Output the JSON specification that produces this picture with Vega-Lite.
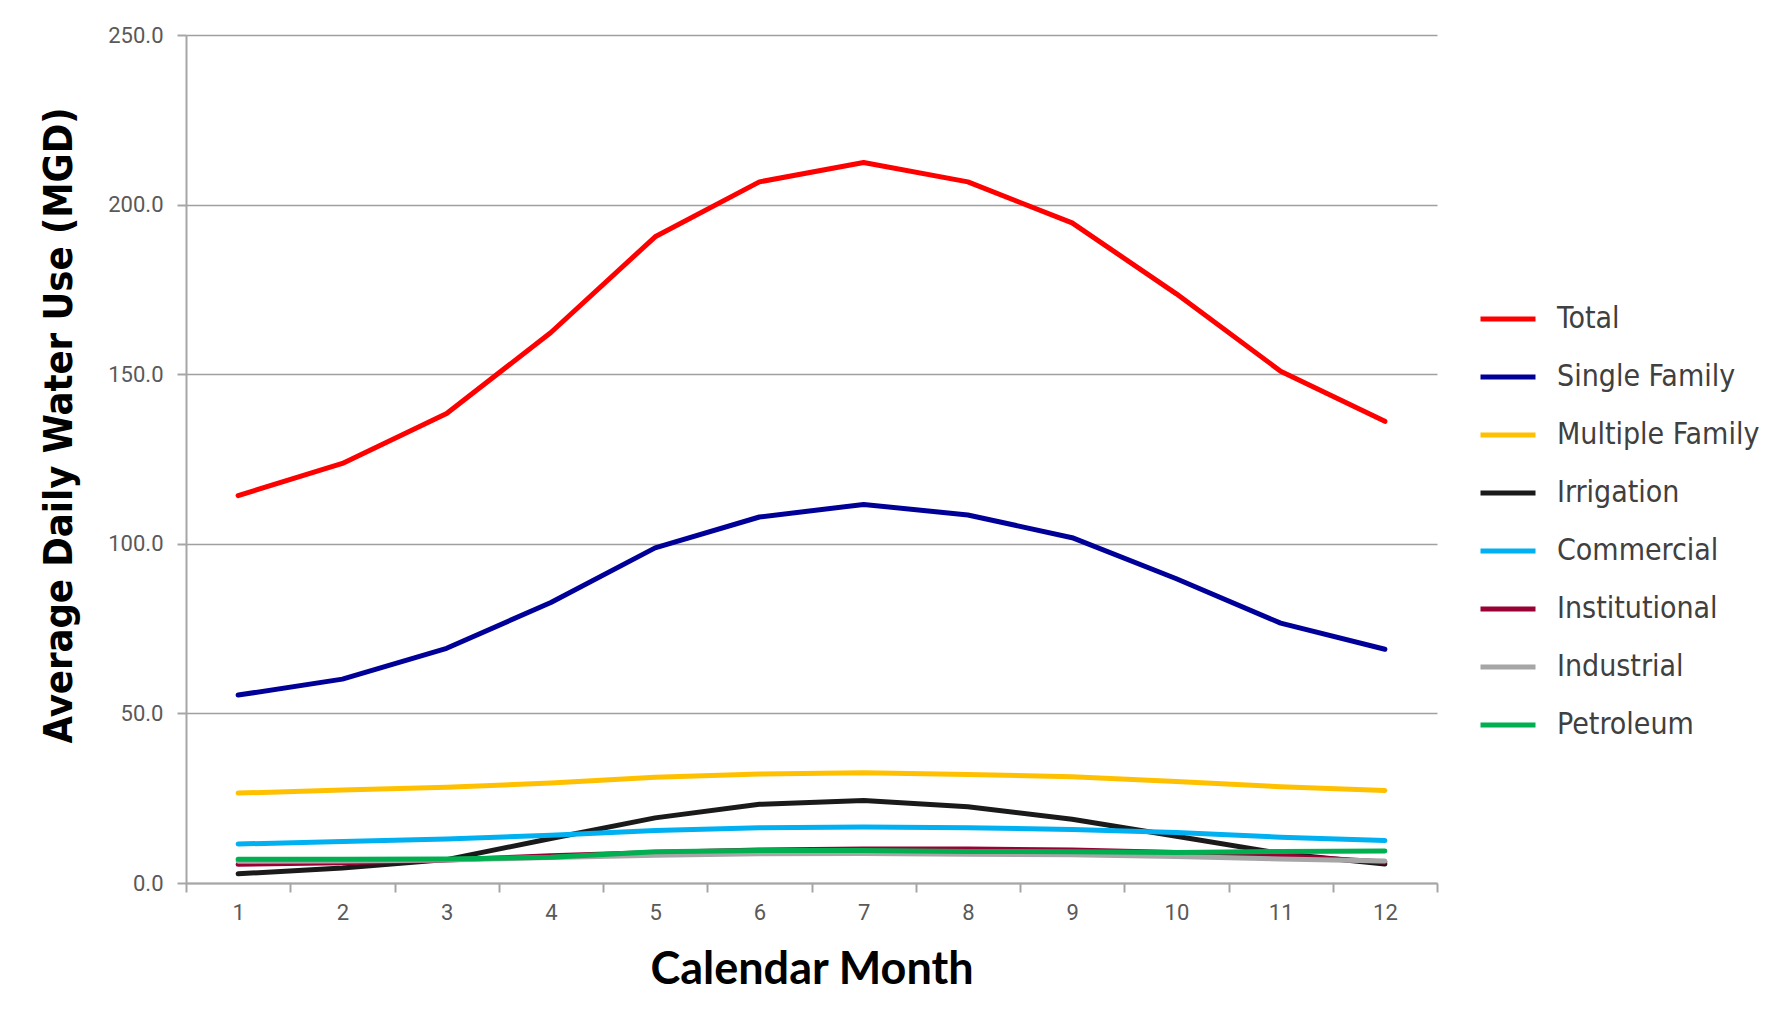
{
  "$schema": "https://vega.github.io/schema/vega-lite/v6.json",
  "width": 1251,
  "height": 848,
  "autosize": {"type": "none"},
  "padding": {"left": 186, "top": 35, "right": 350, "bottom": 144},
  "background": "white",
  "data": {
    "values": [
      {"month": 1, "sector": "Total", "mgd": 114.2},
      {"month": 2, "sector": "Total", "mgd": 123.7},
      {"month": 3, "sector": "Total", "mgd": 138.4},
      {"month": 4, "sector": "Total", "mgd": 162.3},
      {"month": 5, "sector": "Total", "mgd": 190.5},
      {"month": 6, "sector": "Total", "mgd": 206.7},
      {"month": 7, "sector": "Total", "mgd": 212.4},
      {"month": 8, "sector": "Total", "mgd": 206.7},
      {"month": 9, "sector": "Total", "mgd": 194.6},
      {"month": 10, "sector": "Total", "mgd": 173.7},
      {"month": 11, "sector": "Total", "mgd": 150.9},
      {"month": 12, "sector": "Total", "mgd": 136.1},
      {"month": 1, "sector": "Single Family", "mgd": 55.4},
      {"month": 2, "sector": "Single Family", "mgd": 60.1},
      {"month": 3, "sector": "Single Family", "mgd": 69.2},
      {"month": 4, "sector": "Single Family", "mgd": 82.7},
      {"month": 5, "sector": "Single Family", "mgd": 98.8},
      {"month": 6, "sector": "Single Family", "mgd": 107.9},
      {"month": 7, "sector": "Single Family", "mgd": 111.6},
      {"month": 8, "sector": "Single Family", "mgd": 108.5},
      {"month": 9, "sector": "Single Family", "mgd": 101.8},
      {"month": 10, "sector": "Single Family", "mgd": 89.7},
      {"month": 11, "sector": "Single Family", "mgd": 76.6},
      {"month": 12, "sector": "Single Family", "mgd": 68.9},
      {"month": 1, "sector": "Multiple Family", "mgd": 26.5},
      {"month": 2, "sector": "Multiple Family", "mgd": 27.4},
      {"month": 3, "sector": "Multiple Family", "mgd": 28.2},
      {"month": 4, "sector": "Multiple Family", "mgd": 29.5},
      {"month": 5, "sector": "Multiple Family", "mgd": 31.2},
      {"month": 6, "sector": "Multiple Family", "mgd": 32.1},
      {"month": 7, "sector": "Multiple Family", "mgd": 32.5},
      {"month": 8, "sector": "Multiple Family", "mgd": 32.0},
      {"month": 9, "sector": "Multiple Family", "mgd": 31.3},
      {"month": 10, "sector": "Multiple Family", "mgd": 29.9},
      {"month": 11, "sector": "Multiple Family", "mgd": 28.4},
      {"month": 12, "sector": "Multiple Family", "mgd": 27.3},
      {"month": 1, "sector": "Irrigation", "mgd": 2.7},
      {"month": 2, "sector": "Irrigation", "mgd": 4.4},
      {"month": 3, "sector": "Irrigation", "mgd": 6.9},
      {"month": 4, "sector": "Irrigation", "mgd": 13.1},
      {"month": 5, "sector": "Irrigation", "mgd": 19.2},
      {"month": 6, "sector": "Irrigation", "mgd": 23.2},
      {"month": 7, "sector": "Irrigation", "mgd": 24.3},
      {"month": 8, "sector": "Irrigation", "mgd": 22.5},
      {"month": 9, "sector": "Irrigation", "mgd": 18.8},
      {"month": 10, "sector": "Irrigation", "mgd": 13.8},
      {"month": 11, "sector": "Irrigation", "mgd": 8.7},
      {"month": 12, "sector": "Irrigation", "mgd": 5.6},
      {"month": 1, "sector": "Commercial", "mgd": 11.5},
      {"month": 2, "sector": "Commercial", "mgd": 12.2},
      {"month": 3, "sector": "Commercial", "mgd": 13.0},
      {"month": 4, "sector": "Commercial", "mgd": 14.1},
      {"month": 5, "sector": "Commercial", "mgd": 15.5},
      {"month": 6, "sector": "Commercial", "mgd": 16.3},
      {"month": 7, "sector": "Commercial", "mgd": 16.5},
      {"month": 8, "sector": "Commercial", "mgd": 16.3},
      {"month": 9, "sector": "Commercial", "mgd": 15.8},
      {"month": 10, "sector": "Commercial", "mgd": 14.9},
      {"month": 11, "sector": "Commercial", "mgd": 13.5},
      {"month": 12, "sector": "Commercial", "mgd": 12.5},
      {"month": 1, "sector": "Institutional", "mgd": 5.5},
      {"month": 2, "sector": "Institutional", "mgd": 6.0},
      {"month": 3, "sector": "Institutional", "mgd": 6.8},
      {"month": 4, "sector": "Institutional", "mgd": 8.0},
      {"month": 5, "sector": "Institutional", "mgd": 9.0},
      {"month": 6, "sector": "Institutional", "mgd": 9.7},
      {"month": 7, "sector": "Institutional", "mgd": 10.0},
      {"month": 8, "sector": "Institutional", "mgd": 10.0},
      {"month": 9, "sector": "Institutional", "mgd": 9.7},
      {"month": 10, "sector": "Institutional", "mgd": 9.0},
      {"month": 11, "sector": "Institutional", "mgd": 8.0},
      {"month": 12, "sector": "Institutional", "mgd": 6.2},
      {"month": 1, "sector": "Industrial", "mgd": 6.4},
      {"month": 2, "sector": "Industrial", "mgd": 6.5},
      {"month": 3, "sector": "Industrial", "mgd": 6.8},
      {"month": 4, "sector": "Industrial", "mgd": 7.5},
      {"month": 5, "sector": "Industrial", "mgd": 8.2},
      {"month": 6, "sector": "Industrial", "mgd": 8.6},
      {"month": 7, "sector": "Industrial", "mgd": 8.7},
      {"month": 8, "sector": "Industrial", "mgd": 8.5},
      {"month": 9, "sector": "Industrial", "mgd": 8.3},
      {"month": 10, "sector": "Industrial", "mgd": 7.8},
      {"month": 11, "sector": "Industrial", "mgd": 7.1},
      {"month": 12, "sector": "Industrial", "mgd": 6.5},
      {"month": 1, "sector": "Petroleum", "mgd": 7.0},
      {"month": 2, "sector": "Petroleum", "mgd": 7.0},
      {"month": 3, "sector": "Petroleum", "mgd": 7.1},
      {"month": 4, "sector": "Petroleum", "mgd": 7.6},
      {"month": 5, "sector": "Petroleum", "mgd": 9.2},
      {"month": 6, "sector": "Petroleum", "mgd": 9.6},
      {"month": 7, "sector": "Petroleum", "mgd": 9.6},
      {"month": 8, "sector": "Petroleum", "mgd": 9.3},
      {"month": 9, "sector": "Petroleum", "mgd": 9.2},
      {"month": 10, "sector": "Petroleum", "mgd": 9.0},
      {"month": 11, "sector": "Petroleum", "mgd": 9.3},
      {"month": 12, "sector": "Petroleum", "mgd": 9.4}
    ]
  },
  "mark": {"type": "line", "strokeWidth": 5, "strokeCap": "round", "strokeJoin": "round"},
  "encoding": {
    "x": {
      "field": "month",
      "type": "ordinal",
      "bandPosition": 0.5,
      "scale": {"type": "band", "paddingInner": 0, "paddingOuter": 0},
      "axis": {
        "title": "Calendar Month",
        "labelAngle": 0,
        "tickBand": "extent",
        "grid": false,
        "domainColor": "#a6a6a6",
        "domainWidth": 2,
        "tickColor": "#a6a6a6",
        "tickWidth": 2,
        "tickSize": 9,
        "labelPadding": 10,
        "labelFont": "Roboto",
        "labelFontSize": 22,
        "labelColor": "#595959",
        "titleFont": "Lato",
        "titleFontWeight": "bold",
        "titleFontSize": 45,
        "titleColor": "#000000",
        "titleBaseline": "middle",
        "titleY": 86
      }
    },
    "y": {
      "field": "mgd",
      "type": "quantitative",
      "scale": {"domain": [0, 250], "nice": false, "zero": true},
      "axis": {
        "title": "Average Daily Water Use (MGD)",
        "values": [0, 50, 100, 150, 200, 250],
        "format": ".1f",
        "grid": true,
        "gridColor": "#a0a0a0",
        "gridWidth": 1.5,
        "domainColor": "#a6a6a6",
        "domainWidth": 2,
        "tickColor": "#a6a6a6",
        "tickWidth": 2,
        "tickSize": 9,
        "labelPadding": 14,
        "labelFont": "Roboto",
        "labelFontSize": 22,
        "labelColor": "#595959",
        "titleFont": "DejaVu Sans Condensed",
        "titleFontWeight": "bold",
        "titleFontSize": 39.5,
        "titleColor": "#000000",
        "titleAngle": -90,
        "titleBaseline": "middle",
        "titleAlign": "center",
        "titleX": -127,
        "titleY": 390
      }
    },
    "color": {
      "field": "sector",
      "type": "nominal",
      "scale": {
        "domain": ["Total", "Single Family", "Multiple Family", "Irrigation", "Commercial", "Institutional", "Industrial", "Petroleum"],
        "range": ["#ff0000", "#000099", "#ffc000", "#1a1a1a", "#00b0f0", "#990033", "#a6a6a6", "#00b050"]
      },
      "legend": {
        "title": null,
        "orient": "none",
        "legendX": 1292,
        "legendY": 254,
        "symbolType": "stroke",
        "symbolSize": 3025,
        "symbolStrokeWidth": 5,
        "rowPadding": 13,
        "labelOffset": 19,
        "labelFont": "DejaVu Sans Condensed",
        "labelFontSize": 30,
        "labelColor": "#404040",
        "labelLimit": 400,
        "labelExpr": "datum.label == 'Total' ? '\u00a0\u00a0Total' : datum.label"
      }
    }
  },
  "config": {
    "view": {"stroke": null}
  }
}
